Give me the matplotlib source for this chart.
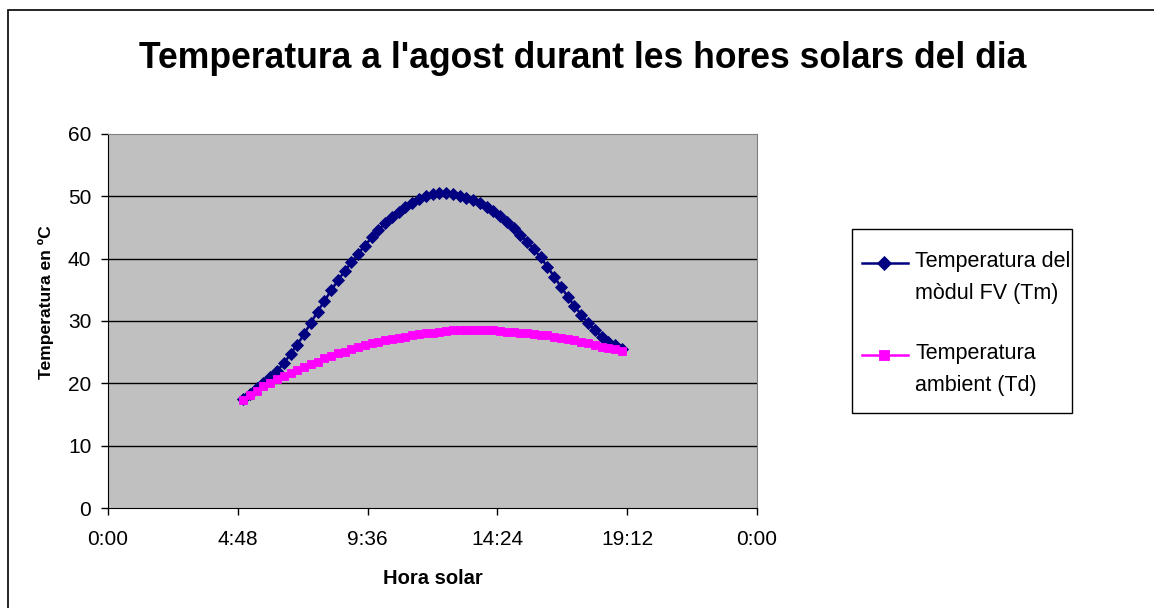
import matplotlib
matplotlib.use("Agg")
import matplotlib.pyplot as plt
import numpy as np
from matplotlib.lines import Line2D
from matplotlib.patches import Rectangle

plt.rcParams['font.family'] = ['Liberation Sans', 'DejaVu Sans']

# solar time, every 15 minutes from 5:00 to 19:00 (in hours)
minutes = np.arange(5 * 60, 19 * 60 + 1, 15)
hours = minutes / 60.0

tm = [17.5, 18.3, 19.2, 20.1, 21.0, 22.0, 23.2, 24.7, 26.2, 27.9,
      29.7, 31.5, 33.2, 34.9, 36.5, 38.0, 39.4, 40.8, 42.1, 43.4,
      44.6, 45.7, 46.7, 47.5, 48.3, 48.9, 49.5, 50.0, 50.3, 50.5,
      50.5, 50.3, 50.1, 49.8, 49.4, 48.9, 48.3, 47.6, 46.8, 45.9,
      44.9, 43.8, 42.7, 41.5, 40.2, 38.7, 37.1, 35.5, 33.9, 32.4,
      31.0, 29.7, 28.5, 27.5, 26.7, 26.1, 25.5]

td = [17.4, 18.1, 18.8, 19.5, 20.1, 20.7, 21.2, 21.7, 22.2, 22.7,
      23.1, 23.5, 24.0, 24.4, 24.8, 25.1, 25.5, 25.8, 26.2, 26.5,
      26.7, 26.9, 27.1, 27.3, 27.5, 27.7, 27.9, 28.0, 28.1, 28.3,
      28.4, 28.5, 28.5, 28.6, 28.6, 28.6, 28.6, 28.5, 28.4, 28.3,
      28.2, 28.1, 28.0, 27.9, 27.8, 27.7, 27.5, 27.3, 27.1, 26.9,
      26.6, 26.4, 26.2, 25.9, 25.7, 25.5, 25.2]

x_ticks = [0, 4.8, 9.6, 14.4, 19.2, 24]
x_labels = ['0:00', '4:48', '9:36', '14:24', '19:12', '0:00']
y_ticks = [0, 10, 20, 30, 40, 50, 60]

label_tm = ["Temperatura del", "mòdul FV (Tm)"]
label_td = ["Temperatura", "ambient (Td)"]
title = "Temperatura a l'agost durant les hores solars del dia"

W, H = 1154, 608
fig = plt.figure(figsize=(W / 100, H / 100), dpi=100)
fig.patch.set_facecolor('white')

# outer chart border (right and bottom edges fall outside the image)
fig.patches.append(Rectangle((8 / W, -0.2), 1.2, 1.2 - 10 / H, transform=fig.transFigure,
                             fill=False, edgecolor='black', linewidth=1.2))

ax = fig.add_axes([108 / W, 1 - 508 / H, (757 - 108) / W, (508 - 134) / H])
ax.set_facecolor('#C0C0C0')

for v in y_ticks[1:-1]:
    ax.axhline(v, color='black', linewidth=1, zorder=1)

ax.plot(hours, tm, color='#000080', marker='D', markersize=6.3, linewidth=1.8,
        markeredgewidth=0.6, zorder=3)
ax.plot(hours, td, color='#FF00FF', marker='s', markersize=6.3, linewidth=1.8,
        markeredgewidth=0.6, zorder=4)

ax.set_xlim(0, 24)
ax.set_ylim(0, 60)
ax.set_xticks(x_ticks)
ax.set_xticklabels(x_labels)
ax.set_yticks(y_ticks)
ax.tick_params(axis='both', direction='out', length=5, width=1, labelsize=15,
               color='black')
ax.tick_params(axis='y', pad=7)
ax.tick_params(axis='x', pad=11)

for s in ['top', 'right']:
    ax.spines[s].set_color('#808080')
for s in ['left', 'bottom']:
    ax.spines[s].set_color('black')

ax.set_xlabel('Hora solar', fontsize=14.5, fontweight='bold', labelpad=14)
fig.text(46.5 / W, 1 - 302 / H, 'Temperatura en ºC', fontsize=12.6, fontweight='bold',
         rotation=90, ha='center', va='center')

fig.text(583 / W, 1 - 59 / H, title, fontsize=25.6, fontweight='bold',
         ha='center', va='center')

# legend, drawn by hand to keep Excel's alignment
fig.patches.append(Rectangle((852 / W, 1 - 413 / H), (1072 - 852) / W, (413 - 229) / H,
                             transform=fig.transFigure, fill=False,
                             edgecolor='black', linewidth=1))
entries = [(label_tm, '#000080', 'D', 263, 262), (label_td, '#FF00FF', 's', 355, 354)]
for lines, col, mk, yh, yt in entries:
    yf = 1 - yh / H
    fig.add_artist(Line2D([862 / W, 908 / W], [yf, yf], transform=fig.transFigure,
                          color=col, linewidth=1.8))
    fig.add_artist(Line2D([884 / W], [yf], transform=fig.transFigure, color=col,
                          marker=mk, markersize=6.8, markeredgewidth=0.6))
    for k, line in enumerate(lines):
        fig.text(915 / W, 1 - (yt + 32 * k) / H, line, fontsize=15.5,
                 ha='left', va='center')

fig.savefig('out.png', dpi=100)
